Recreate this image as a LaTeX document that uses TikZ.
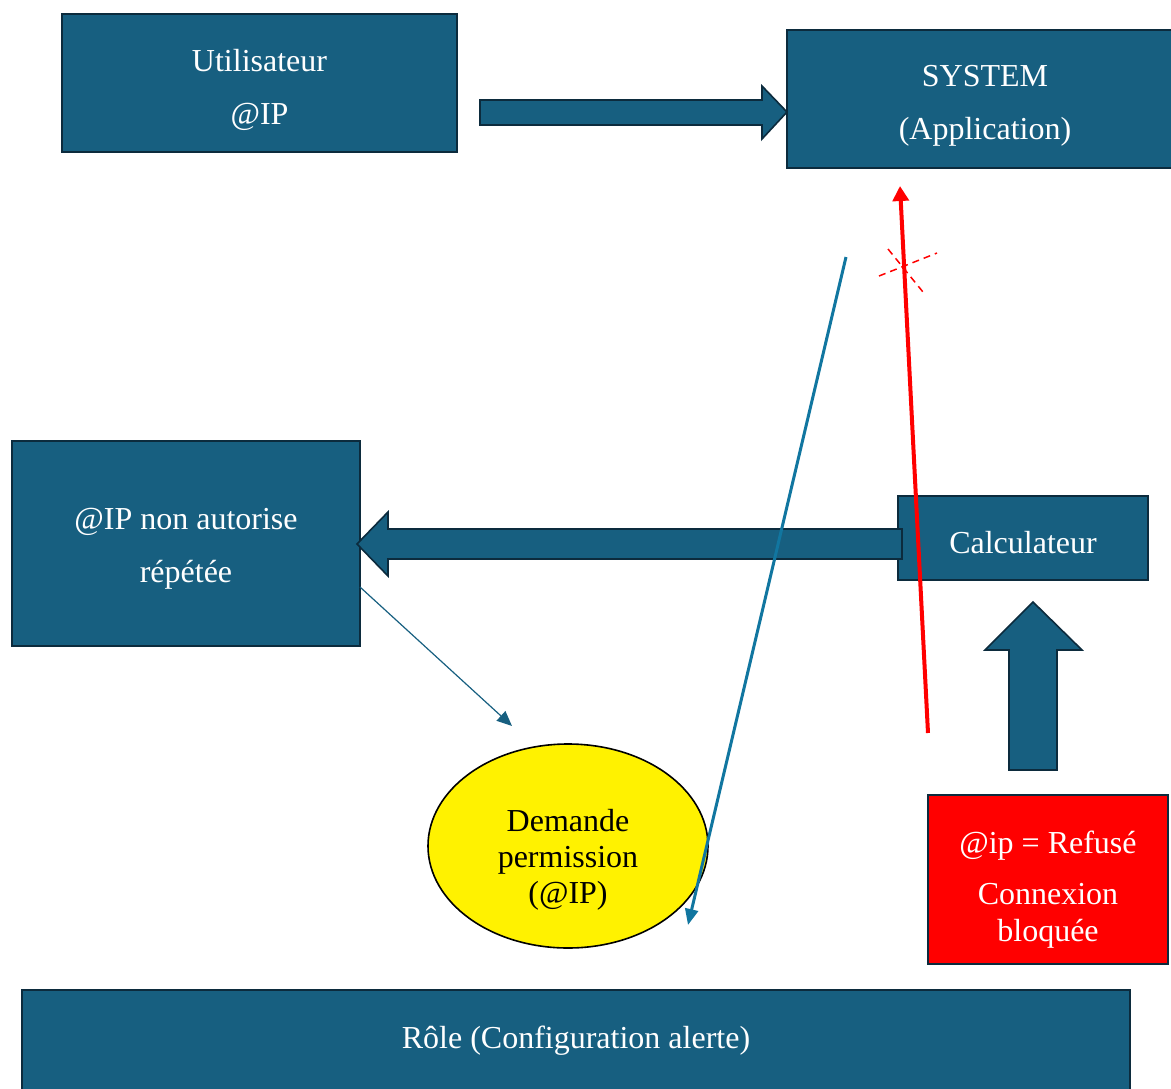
\documentclass[tikz,border=0pt]{standalone}
\usepackage{fontspec}
\setmainfont{Liberation Serif}
\usetikzlibrary{arrows.meta,shapes.geometric,calc}
\definecolor{boxblue}{RGB}{23,95,128}
\definecolor{boxedge}{RGB}{12,43,61}
\definecolor{lineblue}{RGB}{17,118,160}
\definecolor{alertred}{RGB}{255,0,0}
\tikzset{
  bluebox/.style={draw=boxedge, line width=1.6pt, fill=boxblue, inner sep=0pt},
  boxtext/.style={text=white, align=center, inner sep=0pt, font=\fontsize{32}{53}\selectfont},
  blockarrow/.style={draw=boxedge, line width=1.6pt, fill=boxblue, line join=miter},
  redbox/.style={draw=boxedge, line width=1.6pt, fill=alertred, inner sep=0pt},
  redtext/.style={text=white, align=center, inner sep=0pt, font=\fontsize{32}{37}\selectfont},
  bubble/.style={ellipse, draw=black, line width=1.6pt, fill=yellow, inner sep=0pt},
  bubbletext/.style={text=black, align=center, inner sep=0pt, font=\fontsize{32}{36}\selectfont},
}
\begin{document}
\begin{tikzpicture}[x=1pt,y=-1pt]
\useasboundingbox (0,0) rectangle (1171,1088);
\clip (0,0) rectangle (1171,1088);

% boxes
\node[bluebox, minimum width=395pt, minimum height=138pt] (user) at (259.5,83) {};
\node[boxtext] (usertext) at ($(user.center)+(0,7)$) {Utilisateur\\@IP};
\node[bluebox, minimum width=396pt, minimum height=138pt] (system) at (985,99) {};
\node[boxtext] (systemtext) at ($(system.center)+(0,7)$) {SYSTEM\\(Application)};
\node[bluebox, minimum width=348pt, minimum height=205pt] (ipbox) at (186,543.5) {};
\node[boxtext] (iptext) at ($(ipbox.center)+(0,5)$) {@IP non autorise\\répétée};
\node[bluebox, minimum width=250pt, minimum height=84pt] (calc) at (1023,538) {};
\node[boxtext] (calctext) at ($(calc.center)+(0,5)$) {Calculateur};
\node[redbox, minimum width=240pt, minimum height=169pt] (refus) at (1048,879.5) {};
\node[redtext] (refustext) at ($(refus.center)+(0,10)$) {@ip = Refusé\\[14pt]Connexion\\bloquée};
\node[bluebox, minimum width=1108pt, minimum height=120pt] (role) at (576,1050) {};
\node[boxtext] (roletext) at (576,1041) {Rôle (Configuration alerte)};

% block arrows
\draw[blockarrow] (480,100) -- (762,100) -- (762,86) -- (787,112) -- (762,139) -- (762,125) -- (480,125) -- cycle;
\draw[blockarrow] (902,529) -- (388,529) -- (388,512) -- (357,544) -- (388,576) -- (388,559) -- (902,559) -- cycle;
\draw[blockarrow] (1009,770) -- (1009,650) -- (985,650) -- (1033,602) -- (1082,650) -- (1057,650) -- (1057,770) -- cycle;

% ellipse
\node[bubble, minimum width=280pt, minimum height=204pt] (demande) at (568,846) {};
\node[bubbletext] (demandetext) at ($(demande.center)+(0,14)$) {Demande\\permission\\(@IP)};

% connectors
\coordinate (thinstart) at (360,587);
\coordinate (thinend) at (512,726);
\draw[boxblue, line width=1.2pt, -{Triangle[length=15pt,width=13pt]}] (thinstart) -- (thinend);

\coordinate (bluestart) at (846,257);
\coordinate (blueend) at (688,925);
\draw[lineblue, line width=3pt, -{Triangle[length=16pt,width=13pt]}] (bluestart) -- (blueend);

\coordinate (redstart) at (928,733);
\coordinate (redend) at (900,186);
\draw[alertred, line width=4pt, -{Triangle[length=15pt,width=16pt]}] (redstart) -- (redend);

% dashed cross
\coordinate (xa1) at (879,276);
\coordinate (xa2) at (937,253);
\coordinate (xb1) at (888,249);
\coordinate (xb2) at (923,292);
\draw[alertred, line width=1.5pt, dash pattern=on 7pt off 5pt] (xa1) -- (xa2);
\draw[alertred, line width=1.5pt, dash pattern=on 7pt off 5pt] (xb1) -- (xb2);
\end{tikzpicture}
\end{document}
